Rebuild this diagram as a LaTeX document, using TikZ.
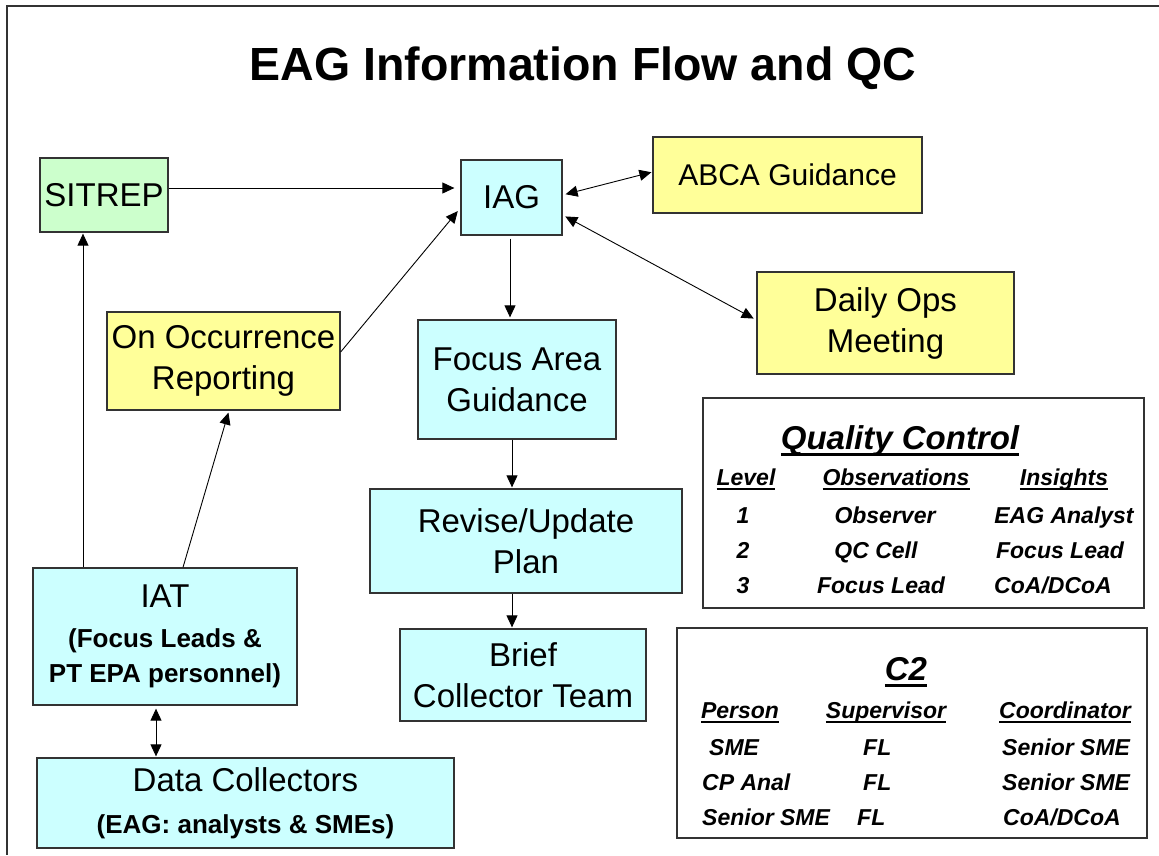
\documentclass[tikz,border=0pt]{standalone}
\usepackage{fontspec}
\setmainfont{Liberation Sans}
\usetikzlibrary{arrows.meta}

\definecolor{fillcyan}{HTML}{CCFFFF}
\definecolor{fillyellow}{HTML}{FFFF99}
\definecolor{fillgreen}{HTML}{CCFFCC}
\definecolor{edgegray}{HTML}{333333}

% underline drawn a fixed distance below the baseline
\newcommand\ulword[1]{\setbox0\hbox{#1}\rlap{\rule[-0.21em]{\wd0}{0.085em}}\box0}
\newcommand\bigtxt{\fontsize{33}{41}\selectfont}
\newcommand\subtxt{\fontsize{26}{34}\selectfont\bfseries}
\newcommand\tabtxt{\fontsize{23}{28}\selectfont\bfseries\itshape}
\newcommand\tabhead{\fontsize{33}{40}\selectfont\bfseries\itshape}

\begin{document}
\begin{tikzpicture}[x=1pt,y=-1pt,
  box/.style={draw=edgegray, line width=1.3pt, inner sep=0pt, align=center, font=\bigtxt},
  cyanbox/.style={box, fill=fillcyan},
  yellowbox/.style={box, fill=fillyellow},
  greenbox/.style={box, fill=fillgreen},
  tablebox/.style={draw=edgegray, line width=1.3pt, fill=white, inner sep=0pt},
  arr/.style={-{Triangle[length=12pt,width=11pt]}, line width=0.9pt},
  dbl/.style={{Triangle[length=12pt,width=11pt]}-{Triangle[length=12pt,width=11pt]}, line width=0.9pt},
  cell/.style={anchor=base, inner sep=0pt, font=\tabtxt},
  cellw/.style={anchor=base west, inner sep=0pt, font=\tabtxt},
]
\useasboundingbox (0,0) rectangle (1159,855);

% page frame (top and left edges)
\draw[line width=1.5pt, edgegray] (1159,6) -- (7,6) -- (7,855);

% title
\node[anchor=base, inner sep=0pt, font=\fontsize{46.5}{52}\selectfont\bfseries] (title) at (583,80)
  {EAG Information Flow and QC};

% flow boxes
\node[greenbox, minimum width=128pt, minimum height=74pt] (sit) at (104,195) {SITREP};
\node[cyanbox, minimum width=101pt, minimum height=75pt] (iag) at (511.5,197.5) {IAG};
\node[yellowbox, minimum width=269pt, minimum height=76pt, font=\fontsize{30}{38}\selectfont] (abca) at (787.5,175) {ABCA Guidance};
\node[yellowbox, minimum width=257pt, minimum height=102pt] (daily) at (885.5,323) {Daily Ops\\Meeting};
\node[yellowbox, minimum width=233pt, minimum height=98pt] (oor) at (223.5,361) {On Occurrence\\Reporting};
\node[cyanbox, minimum width=198pt, minimum height=119pt] (fag) at (517,379.5) {Focus Area\\Guidance};
\node[cyanbox, minimum width=312pt, minimum height=104pt] (rev) at (526,541) {Revise/Update\\Plan};
\node[cyanbox, minimum width=246pt, minimum height=92pt] (brief) at (523,675) {Brief\\Collector Team};
\node[cyanbox, minimum width=264pt, minimum height=137pt] (iat) at (165,636.5)
  {\bigtxt IAT\\[-1pt]\subtxt (Focus Leads \&\\[-6pt]\subtxt PT EPA personnel)};
\node[cyanbox, minimum width=417pt, minimum height=90pt] (dc) at (245.5,803)
  {\bigtxt Data Collectors\\[1pt]\subtxt (EAG: analysts \& SMEs)};

% connectors
\draw[arr, shorten >=6pt] ([yshift=7pt]sit.east) -- ([yshift=9.5pt]iag.west);
\draw[arr, shorten >=4pt] ([yshift=9pt]oor.east) -- ([yshift=-10.5pt]iag.west);
\draw[dbl, shorten <=3pt, shorten >=1pt] ([yshift=2.5pt]iag.east) -- ([yshift=3pt]abca.west);
\draw[dbl, shorten <=3pt, shorten >=3pt] ([yshift=-17.5pt]iag.east) -- ([yshift=3pt]daily.west);
\draw[arr, shorten <=3pt, shorten >=2pt] ([xshift=-1.5pt]iag.south) -- ([xshift=-1.5pt]iag.south |- fag.north);
\draw[arr, shorten >=1pt] ([xshift=-5pt]fag.south) -- ([xshift=-5pt]fag.south |- rev.north);
\draw[arr, shorten >=1pt] ([xshift=-14pt]rev.south) -- ([xshift=-14pt]rev.south |- brief.north);
\draw[arr, shorten >=1pt] ([xshift=-82pt]iat.north) -- ([xshift=-82pt]iat.north |- sit.south);
\draw[arr, shorten >=2pt] ([xshift=18pt]iat.north) -- ([xshift=5.5pt]oor.south);
\draw[dbl, shorten <=3pt, shorten >=1pt] ([xshift=-9pt]iat.south) -- ([xshift=-9pt]iat.south |- dc.north);

% quality control table
\node[tablebox, minimum width=441pt, minimum height=210pt] (qc) at (923.5,503) {};
\node[cell, font=\tabhead] (qct) at (900,449) {\ulword{Quality Control}};
\node[cell] (qch1) at (746,485) {\ulword{Level}};
\node[cell] (qch2) at (896,485) {\ulword{Observations}};
\node[cell] (qch3) at (1064,485) {\ulword{Insights}};
\node[cell] (qa1) at (743,523) {1};
\node[cell] (qb1) at (885,523) {Observer};
\node[cell] (qc1) at (1064,523) {EAG Analyst};
\node[cell] (qa2) at (743,558) {2};
\node[cell] (qb2) at (876,558) {QC Cell};
\node[cell] (qc2) at (1060,558) {Focus Lead};
\node[cell] (qa3) at (743,593) {3};
\node[cell] (qb3) at (881,593) {Focus Lead};
\node[cell] (qc3) at (1053,593) {CoA/DCoA};

% command and control table
\node[tablebox, minimum width=470pt, minimum height=210pt] (c2) at (912,733) {};
\node[cell, font=\tabhead] (c2t) at (906,680) {\ulword{C2}};
\node[cell] (ch1) at (740,718) {\ulword{Person}};
\node[cell] (ch2) at (886,718) {\ulword{Supervisor}};
\node[cell] (ch3) at (1065,718) {\ulword{Coordinator}};
\node[cellw] (ca1) at (709,755) {SME};
\node[cellw] (cb1) at (863,755) {FL};
\node[cellw] (cc1) at (1002,755) {Senior SME};
\node[cellw] (ca2) at (702,790) {CP Anal};
\node[cellw] (cb2) at (863,790) {FL};
\node[cellw] (cc2) at (1002,790) {Senior SME};
\node[cellw] (ca3) at (702,825) {Senior SME};
\node[cellw] (cb3) at (857,825) {FL};
\node[cellw] (cc3) at (1003,825) {CoA/DCoA};
\end{tikzpicture}
\end{document}
